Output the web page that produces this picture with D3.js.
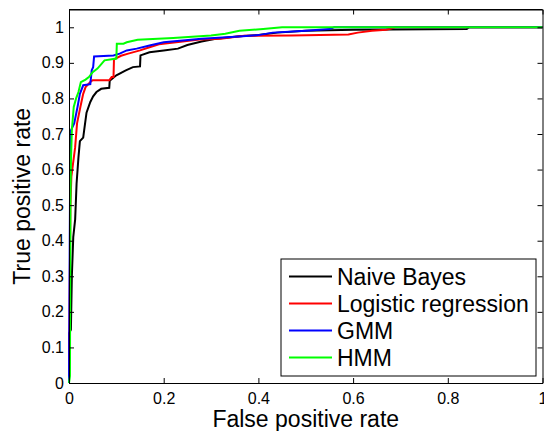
<!DOCTYPE html>
<html>
<head>
<meta charset="utf-8">
<script src="https://cdn.jsdelivr.net/npm/d3@7"></script>
<style>
    body { margin: 0; background: #fff; }
    svg { display: block; font-family: "Liberation Sans", Arial, Helvetica, sans-serif; }
</style>
</head>
<body>
<div id="chart-container"></div>
<script>
// ROC points, [false positive rate, true positive rate]
const naiveBayes = [
    [0, 0], [0, 0.14], [0.004, 0.15], [0.006, 0.3], [0.009, 0.41], [0.013, 0.46],
    [0.016, 0.56], [0.02, 0.635], [0.023, 0.68], [0.03, 0.69], [0.032, 0.71],
    [0.037, 0.76], [0.045, 0.79], [0.051, 0.806], [0.058, 0.818], [0.068, 0.827],
    [0.085, 0.83], [0.086, 0.85], [0.1, 0.865], [0.12, 0.879], [0.135, 0.888],
    [0.15, 0.89], [0.151, 0.921], [0.17, 0.93], [0.2, 0.935], [0.23, 0.94],
    [0.25, 0.95], [0.28, 0.96], [0.31, 0.968], [0.36, 0.975], [0.4, 0.978],
    [0.44, 0.985], [0.5, 0.99], [0.6, 0.993], [0.84, 0.995], [0.845, 1], [1, 1]
];
const logisticRegression = [
    [0, 0], [0.003, 0.5], [0.005, 0.58], [0.013, 0.663], [0.017, 0.73], [0.024, 0.776],
    [0.03, 0.813], [0.035, 0.832], [0.045, 0.846], [0.05, 0.851], [0.085, 0.851],
    [0.09, 0.86], [0.094, 0.86], [0.095, 0.91], [0.11, 0.92], [0.125, 0.926],
    [0.15, 0.935], [0.17, 0.944], [0.19, 0.952], [0.24, 0.96], [0.28, 0.966],
    [0.32, 0.968], [0.37, 0.976], [0.47, 0.977], [0.59, 0.98], [0.61, 0.985],
    [0.64, 0.99], [0.67, 0.993], [0.69, 1], [1, 1]
];
const gmm = [
    [0, 0], [0.002, 0.5], [0.003, 0.67], [0.004, 0.71], [0.011, 0.73], [0.018, 0.776],
    [0.023, 0.813], [0.03, 0.837], [0.045, 0.84], [0.048, 0.879], [0.051, 0.888],
    [0.053, 0.918], [0.094, 0.921], [0.107, 0.926], [0.122, 0.935], [0.143, 0.94],
    [0.17, 0.949], [0.2, 0.958], [0.28, 0.968], [0.36, 0.974], [0.4, 0.978],
    [0.43, 0.985], [0.5, 0.99], [0.55, 0.995], [0.56, 1], [1, 1]
];
const hmm = [
    [0, 0], [0.002, 0.02], [0.003, 0.5], [0.004, 0.62], [0.006, 0.71], [0.01, 0.776],
    [0.015, 0.8], [0.02, 0.818], [0.025, 0.846], [0.035, 0.853], [0.042, 0.86],
    [0.05, 0.874], [0.06, 0.884], [0.066, 0.893], [0.075, 0.907], [0.1, 0.912],
    [0.101, 0.954], [0.115, 0.954], [0.122, 0.958], [0.145, 0.965], [0.22, 0.97],
    [0.3, 0.977], [0.33, 0.982], [0.36, 0.99], [0.41, 0.995], [0.45, 1], [1, 1]
];

const seriesNames = ["Naive Bayes", "Logistic regression", "GMM", "HMM"];
const seriesData = [naiveBayes, logisticRegression, gmm, hmm];
const seriesColors = ["#000000", "#ff0000", "#0000ff", "#00ff00"];

const xTicks = [0, 0.2, 0.4, 0.6, 0.8, 1];
const xTickLabels = ["0", "0.2", "0.4", "0.6", "0.8", "1"];
const yTicks = [0, 0.1, 0.2, 0.3, 0.4, 0.5, 0.6, 0.7, 0.8, 0.9, 1];
const yTickLabels = ["0", "0.1", "0.2", "0.3", "0.4", "0.5", "0.6", "0.7", "0.8", "0.9", "1"];

const width = 544;
const height = 431;
const margin = { top: 9.5, right: 1.5, bottom: 48, left: 69 };
const innerW = width - margin.left - margin.right;
const innerH = height - margin.top - margin.bottom;

const xScale = d3.scaleLinear().domain([0, 1]).range([0, innerW]);
const yScale = d3.scaleLinear().domain([0, 1.05]).range([innerH, 0]);

const svg = d3.select("#chart-container")
    .append("svg")
    .attr("width", width)
    .attr("height", height);

const g = svg.append("g")
    .attr("transform", `translate(${margin.left}, ${margin.top})`);

// curves first, the box goes on top like matlab
const line = d3.line()
    .x(d => xScale(d[0]))
    .y(d => yScale(d[1]));

g.selectAll(".roc")
    .data(seriesData)
    .enter()
    .append("path")
    .attr("class", "roc")
    .attr("d", line)
    .attr("fill", "none")
    .attr("stroke", (d, i) => seriesColors[i])
    .attr("stroke-width", 2)
    .attr("stroke-linejoin", "miter");

// ticks point inward on all four sides
const tickLen = 5;
const styleAxis = sel => {
    sel.select(".domain").attr("stroke", "#000").attr("stroke-width", 1);
    sel.selectAll(".tick line").attr("stroke", "#000").attr("stroke-width", 1);
    sel.selectAll("text").attr("fill", "#000").style("font-size", "16px");
};

g.append("g")
    .attr("transform", `translate(0, ${innerH})`)
    .call(d3.axisBottom(xScale).tickValues(xTicks)
        .tickFormat((d, i) => xTickLabels[i])
        .tickSizeInner(-tickLen).tickSizeOuter(0).tickPadding(10))
    .call(styleAxis);

g.append("g")
    .call(d3.axisTop(xScale).tickValues(xTicks).tickFormat("")
        .tickSizeInner(-tickLen).tickSizeOuter(0))
    .call(styleAxis);

g.append("g")
    .call(d3.axisLeft(yScale).tickValues(yTicks)
        .tickFormat((d, i) => yTickLabels[i])
        .tickSizeInner(-tickLen).tickSizeOuter(0).tickPadding(5))
    .call(styleAxis);

g.append("g")
    .attr("transform", `translate(${innerW}, 0)`)
    .call(d3.axisRight(yScale).tickValues(yTicks).tickFormat("")
        .tickSizeInner(-tickLen).tickSizeOuter(0))
    .call(styleAxis);

// the top of the box above y = 1.05
g.append("line")
    .attr("x1", 0).attr("x2", innerW)
    .attr("y1", 0).attr("y2", 0)
    .attr("stroke", "#000");

// axis titles
svg.append("text")
    .text("False positive rate")
    .attr("x", margin.left + innerW / 2)
    .attr("y", 427)
    .attr("text-anchor", "middle")
    .style("font-size", "23px");

svg.append("text")
    .text("True positive rate")
    .attr("transform", `translate(30, ${margin.top + innerH / 2}) rotate(-90)`)
    .attr("text-anchor", "middle")
    .style("font-size", "23px");

// legend, bottom right
const legend = svg.append("g").attr("transform", "translate(281, 259)");
legend.append("rect")
    .attr("width", 255)
    .attr("height", 117)
    .attr("fill", "#fff")
    .attr("stroke", "#000")
    .attr("stroke-width", 1);

const rows = legend.selectAll(".legend-row")
    .data(seriesNames)
    .enter()
    .append("g")
    .attr("class", "legend-row")
    .attr("transform", (d, i) => `translate(0, ${17.5 + i * 27})`);

rows.append("line")
    .attr("x1", 8).attr("x2", 51)
    .attr("y1", 0).attr("y2", 0)
    .attr("stroke", (d, i) => seriesColors[i])
    .attr("stroke-width", 2);

rows.append("text")
    .text(d => d)
    .attr("x", 56)
    .attr("y", 0)
    .attr("dy", "0.35em")
    .style("font-size", "23px");
</script>
</body>
</html>
